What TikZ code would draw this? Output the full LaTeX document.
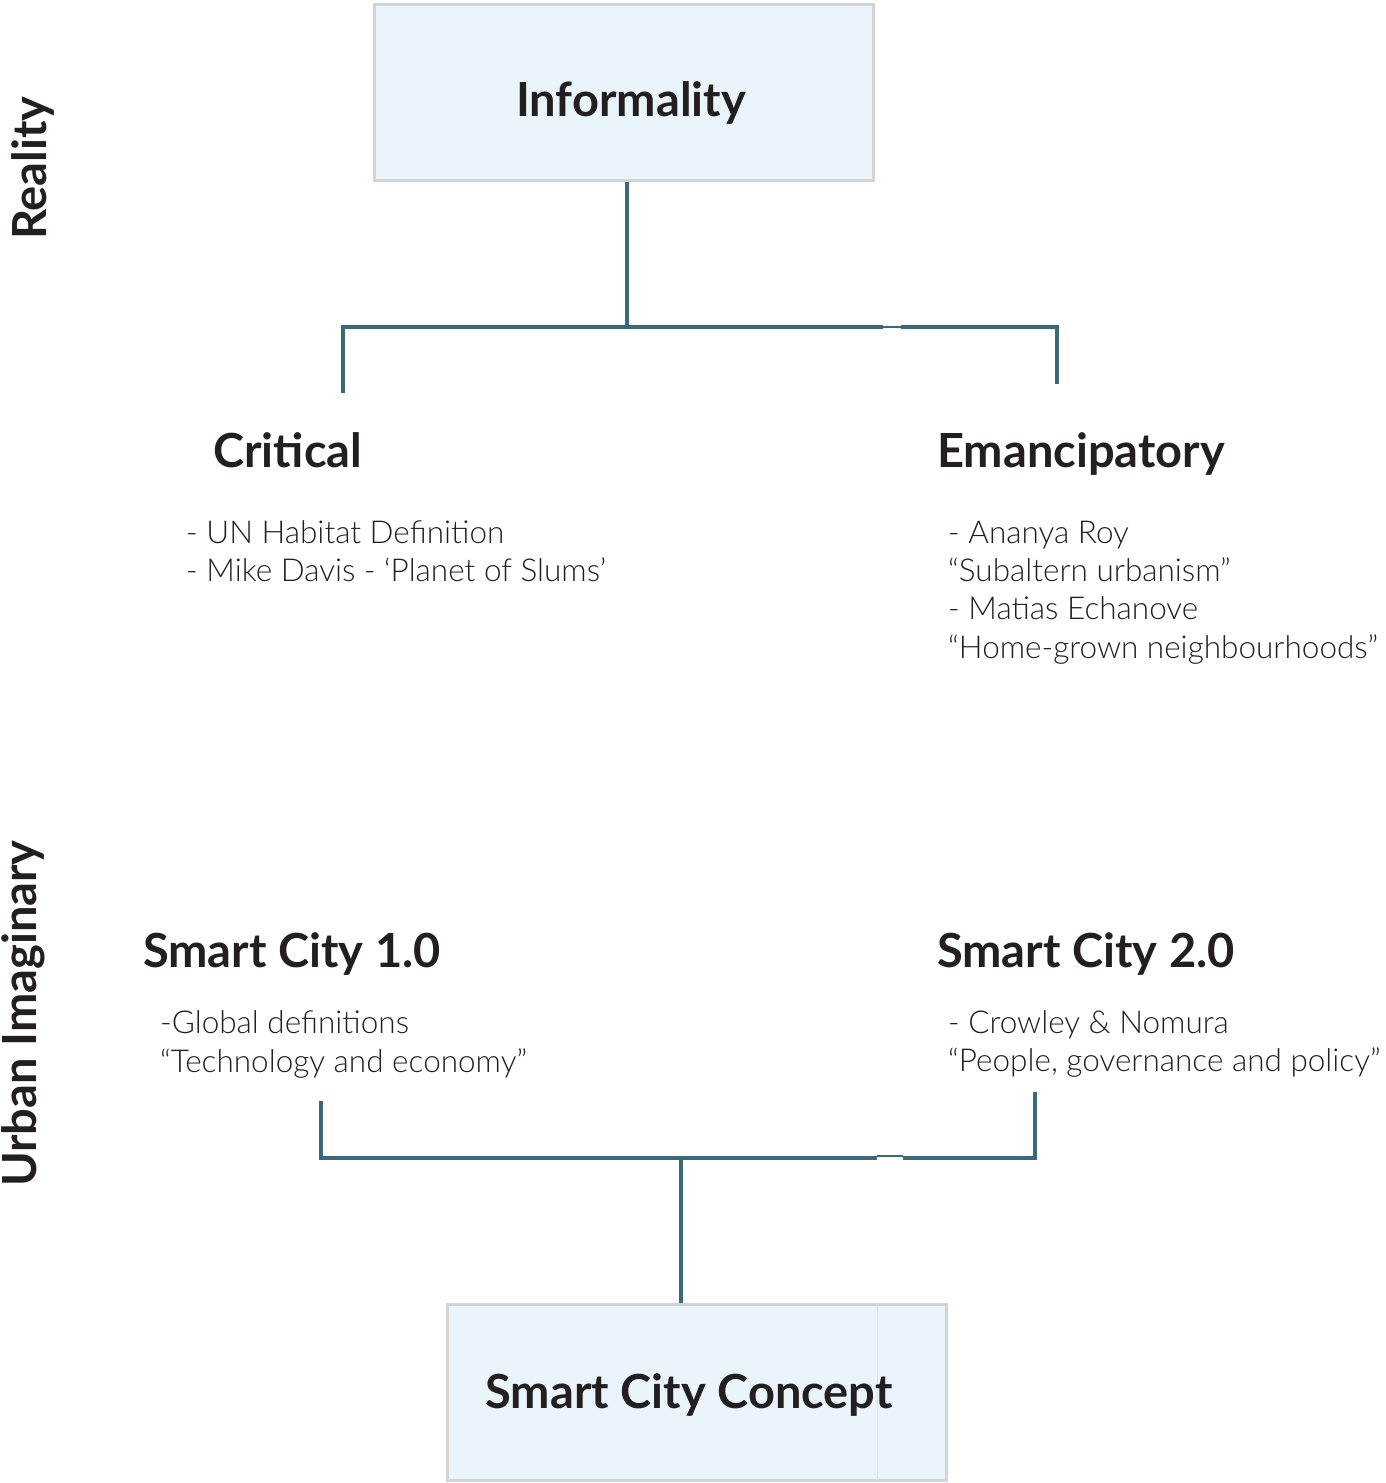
\documentclass[tikz,border=0pt]{standalone}
\usepackage{fontspec}
\setmainfont{Lato}
\newfontfamily\lightfont{Lato Light}
\definecolor{conn}{HTML}{3A6A7A}
\definecolor{boxfill}{HTML}{EAF5FB}
\definecolor{boxline}{HTML}{D4D4D4}
\definecolor{ink}{HTML}{231F20}
\begin{document}
\begin{tikzpicture}[x=1pt,y=-1pt,
  box/.style={draw=boxline,line width=3pt,fill=boxfill,minimum width=499pt,minimum height=176pt,inner sep=0pt},
  head/.style={font=\bfseries\fontsize{47}{56}\selectfont,text=ink,inner sep=0pt},
  side/.style={font=\bfseries\fontsize{47}{56}\selectfont,text=ink,inner sep=0pt,rotate=90,anchor=base west},
  body/.style={font=\lightfont\fontsize{31.5}{38}\selectfont,text=ink,inner sep=0pt,anchor=base west},
  link/.style={draw=conn,line width=4pt},
  thinlink/.style={draw=conn,line width=2pt}]
\useasboundingbox (0,0) rectangle (1385,1483);
\fill[white] (0,0) rectangle (1385,1483);
% boxes
\node[box] (inf) at (624,92.5) {};
\node[head,anchor=base] (infT) at (631,116) {Informality};
\node[box] (scc) at (697,1392) {};
\draw[boxline!60!boxfill,line width=0.8pt] (877,1305) -- (877,1480);
\node[head,anchor=base] (sccT) at (689,1408) {Smart City Concept};
% side labels
\node[side] (real) at (46,240) {Reality};
\node[side] (urb) at (36,1187) {Urban Imaginary};
% headings
\node[head,anchor=base west] (crit) at (213,467) {Critical};
\node[head,anchor=base west] (eman) at (937,467) {Emancipatory};
\node[head,anchor=base west] (sc1) at (143,967) {Smart City 1.0};
\node[head,anchor=base west] (sc2) at (937,967) {Smart City 2.0};
% bodies
\node[body] (critB1) at (186,543) {- UN Habitat Definition};
\node[body] (critB2) at (186,581) {- Mike Davis - ‘Planet of Slums’};
\node[body] (emanB1) at (948,543) {- Ananya Roy};
\node[body] (emanB2) at (948,581) {“Subaltern urbanism”};
\node[body] (emanB3) at (948,619) {- Matias Echanove};
\node[body] (emanB4) at (948,658) {“Home-grown neighbourhoods”};
\node[body] (sc1B1) at (160,1033) {-Global definitions};
\node[body] (sc1B2) at (160,1072) {“Technology and economy”};
\node[body] (sc2B1) at (948,1033) {- Crowley \& Nomura};
\node[body] (sc2B2) at (948,1071) {“People, governance and policy”};
% top connectors
\coordinate (tj) at (627,327);
\coordinate (tl) at (343,327);
\coordinate (tr) at (1057,327);
\coordinate (tlEnd) at (343,393);
\coordinate (trEnd) at (1057,384);
\coordinate (tg1) at (883,327);
\coordinate (tg2) at (901,327);
\draw[link] (tj |- inf.south) -- (tj);
\draw[link] (tlEnd) -- (tl) -- (tg1);
\draw[thinlink] (tg1) -- (tg2);
\draw[link] (tg2) -- (tr) -- (trEnd);
% bottom connectors
\coordinate (bj) at (681,1158);
\coordinate (bl) at (321,1158);
\coordinate (br) at (1035,1158);
\coordinate (blEnd) at (321,1101);
\coordinate (brEnd) at (1035,1092);
\coordinate (bg1) at (877,1158);
\coordinate (bg2) at (903,1158);
\draw[link] (blEnd) -- (bl) -- (bg1);
\draw[thinlink] ([yshift=2pt]bg1) -- ([yshift=2pt]bg2);
\draw[link] (bg2) -- (br) -- (brEnd);
\draw[link] (bj) -- (bj |- scc.north);
\end{tikzpicture}
\end{document}
